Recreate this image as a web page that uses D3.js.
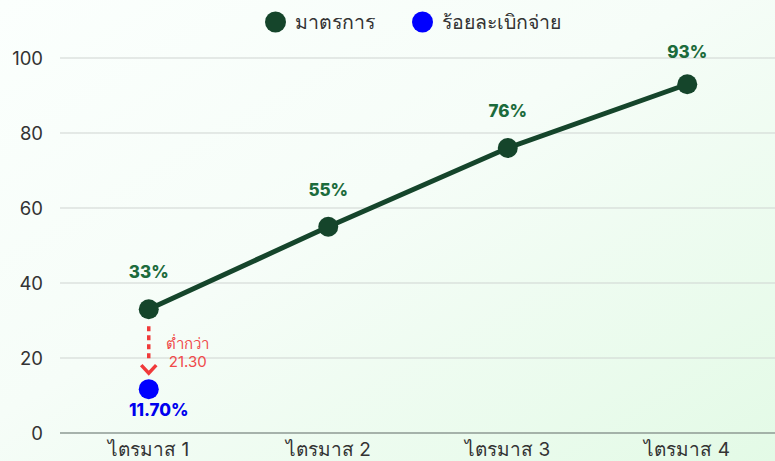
<!DOCTYPE html>
<html><head><meta charset="utf-8">
<script src="https://cdn.jsdelivr.net/npm/d3@7"></script>
<style>html,body{margin:0;padding:0;}svg{display:block;}</style>
</head><body>
<svg id="c" width="775" height="461"></svg>
<script>
const categories = ["ไตรมาส 1","ไตรมาส 2","ไตรมาส 3","ไตรมาส 4"];
const measureValues = [33, 55, 76, 93];
const disburseValues = [11.70];
const gapValue = 21.30;
const yTicks = [0,20,40,60,80,100];
const legendLabels = ["มาตรการ","ร้อยละเบิกจ่าย"];

const W=775,H=461;
const svg=d3.select("#c");
const defs=svg.append("defs");
const g=defs.append("linearGradient").attr("id","bg").attr("x1","0").attr("y1","0").attr("x2","1").attr("y2","1");
g.append("stop").attr("offset","0%").attr("stop-color","#fbfffd");
g.append("stop").attr("offset","45%").attr("stop-color","#f6fdf8");
g.append("stop").attr("offset","100%").attr("stop-color","#e3fae6");
svg.append("rect").attr("width",W).attr("height",H).attr("fill","url(#bg)");

const x=d3.scaleBand().domain(categories).range([59,777]);
const cx=d=>x(d)+x.bandwidth()/2;
const y=d3.scaleLinear().domain([0,100]).range([433,58]);
const numFont="Inter, 'Noto Sans', sans-serif";

// grid
svg.append("g").selectAll("line").data(yTicks.filter(t=>t>0)).join("line")
  .attr("x1",60).attr("x2",W).attr("y1",d=>y(d)).attr("y2",d=>y(d))
  .attr("stroke","#cfd4d1").attr("stroke-width",1);
svg.append("line").attr("x1",60).attr("x2",W).attr("y1",y(0)).attr("y2",y(0)).attr("stroke","#8e9a93").attr("stroke-width",1.5);
// y labels
svg.append("g").selectAll("text").data(yTicks).join("text")
  .attr("x",43).attr("y",d=>y(d)).attr("dy","0.36em").attr("text-anchor","end")
  .attr("font-family",numFont).attr("font-size",18.5).attr("fill","#333").text(d=>d);
// x labels
svg.append("g").selectAll("text").data(categories).join("text")
  .attr("x",d=>cx(d)).attr("y",456).attr("text-anchor","middle")
  .attr("font-family",numFont).attr("font-size",19).attr("fill","#333").text(d=>d);

// line
const line=d3.line().x((d,i)=>cx(categories[i])).y(d=>y(d));
svg.append("path").datum(measureValues).attr("d",line).attr("fill","none").attr("stroke","#15452b").attr("stroke-width",5);
svg.append("g").selectAll("circle").data(measureValues).join("circle")
  .attr("cx",(d,i)=>cx(categories[i])).attr("cy",d=>y(d)).attr("r",10).attr("fill","#15452b");
svg.append("g").selectAll("text").data(measureValues).join("text")
  .attr("x",(d,i)=>cx(categories[i])).attr("y",d=>Math.max(y(d)-31,58)).attr("text-anchor","middle")
  .attr("font-family",numFont).attr("font-size",17).attr("font-weight",800).attr("fill","#1c6b3c").text(d=>d+"%");

// disbursement point
disburseValues.forEach((v,i)=>{
  const px=cx(categories[i]);
  svg.append("line").attr("x1",px).attr("x2",px).attr("y1",y(measureValues[i])+17).attr("y2",y(v)-27)
    .attr("stroke","#f03a3a").attr("stroke-width",3.5).attr("stroke-dasharray","5,4");
  svg.append("path").attr("d",`M${px-7.5},${y(v)-24} L${px},${y(v)-16} L${px+7.5},${y(v)-24}`)
    .attr("fill","none").attr("stroke","#f03a3a").attr("stroke-width",3.5);
  svg.append("circle").attr("cx",px).attr("cy",y(v)).attr("r",10).attr("fill","#0000ff");
  svg.append("text").attr("x",px+10).attr("y",y(v)+27).attr("text-anchor","middle")
    .attr("font-family",numFont).attr("font-size",17).attr("font-weight",800).attr("fill","#0000ee").text(v.toFixed(2)+"%");
  const tx=px+39, ty=(y(measureValues[i])+y(v))/2;
  svg.append("text").attr("x",tx).attr("y",ty).attr("text-anchor","middle")
    .attr("font-family",numFont).attr("font-size",15).attr("fill","#f04a4a").text("ต่ำกว่า");
  svg.append("text").attr("x",tx).attr("y",ty+18).attr("text-anchor","middle")
    .attr("font-family",numFont).attr("font-size",15).attr("fill","#f04a4a").text(gapValue.toFixed(2));
});

// legend
const legColors=["#15452b","#0000ff"];
const legX=[275.5,422.5];
legendLabels.forEach((l,i)=>{
  svg.append("circle").attr("cx",legX[i]).attr("cy",22).attr("r",10.5).attr("fill",legColors[i]);
  svg.append("text").attr("x",legX[i]+19).attr("y",22).attr("dy","0.36em")
    .attr("font-family",numFont).attr("font-size",19.5).attr("fill","#333").text(l);
});
</script>
</body></html>
